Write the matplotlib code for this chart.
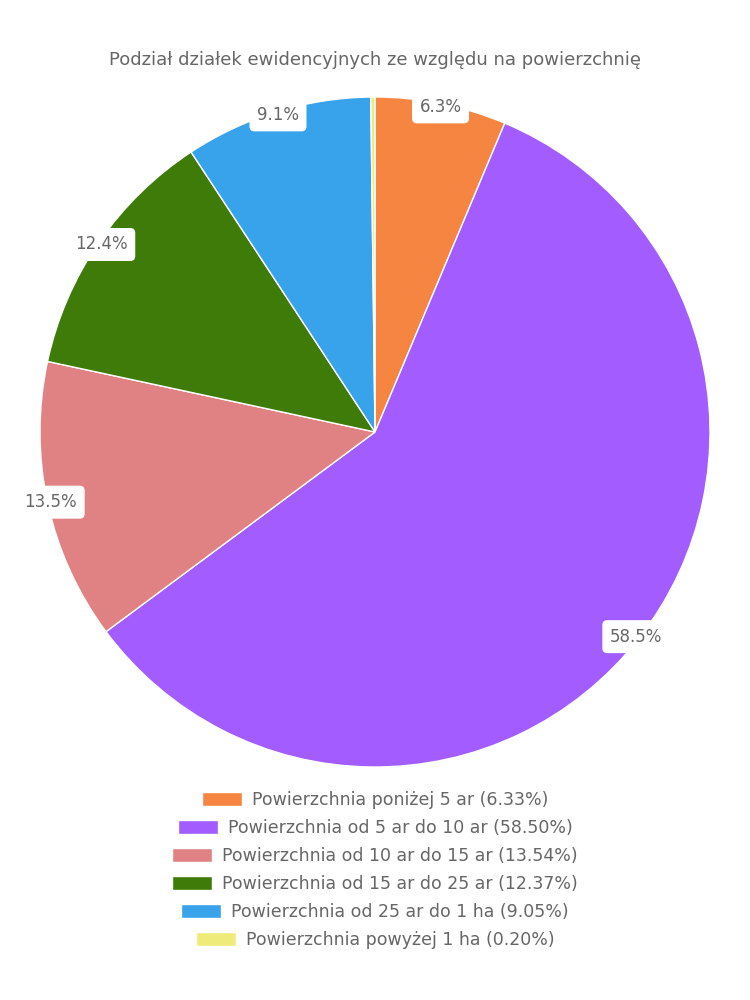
import math

import matplotlib
matplotlib.use("Agg")
import matplotlib.pyplot as plt

plt.rcParams["font.family"] = ["DejaVu Sans"]

title = "Podział działek ewidencyjnych ze względu na powierzchnię"
categories = [
    "Powierzchnia poniżej 5 ar",
    "Powierzchnia od 5 ar do 10 ar",
    "Powierzchnia od 10 ar do 15 ar",
    "Powierzchnia od 15 ar do 25 ar",
    "Powierzchnia od 25 ar do 1 ha",
    "Powierzchnia powyżej 1 ha",
]
shares = [6.33, 58.50, 13.54, 12.37, 9.05, 0.20]
colors = ["#f58540", "#a25cff", "#e08283", "#3e7b09", "#38a3eb", "#eeeb7a"]

TEXT = "#666666"

fig = plt.figure(figsize=(7.5, 10), dpi=100)
ax = fig.add_axes([40 / 750, 1 - 767 / 1000, 670 / 750, 670 / 1000])

wedges, _ = ax.pie(shares, colors=colors, startangle=90, counterclock=False,
                   wedgeprops=dict(edgecolor="white", linewidth=1))
ax.set_aspect("equal")
ax.set_xlim(-1, 1)
ax.set_ylim(-1, 1)

# percentage labels sitting on the rim
total = sum(shares)
acc = 0.0
for v in shares:
    mid = 90 - (acc + v / 2) / total * 360
    acc += v
    if v / total < 0.01:
        continue
    r = 0.99
    x, y = r * math.cos(math.radians(mid)), r * math.sin(math.radians(mid))
    ax.text(x, y, f"{v:.1f}%", ha="center", va="center", fontsize=12, color=TEXT,
            bbox=dict(boxstyle="round,pad=0.45,rounding_size=0.3", fc="white", ec="none"))

fig.text(0.5, 1 - 60 / 1000, title, ha="center", va="center", fontsize=13, color=TEXT)

# one centred row per legend entry
for i, (w, name, v) in enumerate(zip(wedges, categories, shares)):
    y = 1 - (800 + 28 * i) / 1000
    fig.legend([w], [f"{name} ({v:.2f}%)"], loc="center", bbox_to_anchor=(0.5, y),
               frameon=False, fontsize=12.5, labelcolor=TEXT, handlelength=2.3,
               handleheight=0.9, handletextpad=0.57, borderpad=0, borderaxespad=0)

fig.savefig("out.png", dpi=100)
